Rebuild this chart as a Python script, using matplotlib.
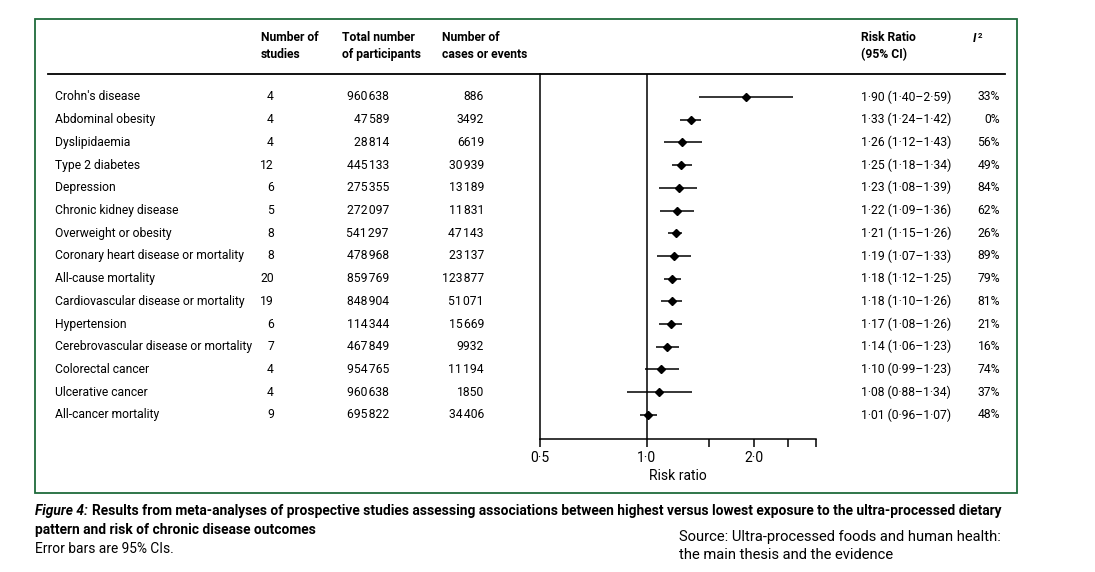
#!/usr/bin/env python3
"""
Forest plot of ultra-processed food meta-analyses: one row per outcome,
risk ratio with 95% CI on a log axis, table columns left and right.
"""
import matplotlib
matplotlib.use('Agg')
import matplotlib.pyplot as plt
from matplotlib.transforms import blended_transform_factory
from matplotlib.lines import Line2D
from matplotlib.patches import Rectangle

plt.rcParams['font.family'] = ['Roboto', 'DejaVu Sans']

outcomes = ["Crohn's disease", 'Abdominal obesity', 'Dyslipidaemia', 'Type 2 diabetes',
            'Depression', 'Chronic kidney disease', 'Overweight or obesity',
            'Coronary heart disease or mortality', 'All-cause mortality',
            'Cardiovascular disease or mortality', 'Hypertension',
            'Cerebrovascular disease or mortality', 'Colorectal cancer',
            'Ulcerative cancer', 'All-cancer mortality']
n_studies = [4, 4, 4, 12, 6, 5, 8, 8, 20, 19, 6, 7, 4, 4, 9]
participants = [960638, 47589, 28814, 445133, 275355, 272097, 541297, 478968,
                859769, 848904, 114344, 467849, 954765, 960638, 695822]
cases = [886, 3492, 6619, 30939, 13189, 11831, 47143, 23137, 123877, 51071,
         15669, 9932, 11194, 1850, 34406]
rr = [1.90, 1.33, 1.26, 1.25, 1.23, 1.22, 1.21, 1.19, 1.18, 1.18, 1.17, 1.14, 1.10, 1.08, 1.01]
ci_lo = [1.40, 1.24, 1.12, 1.18, 1.08, 1.09, 1.15, 1.07, 1.12, 1.10, 1.08, 1.06, 0.99, 0.88, 0.96]
ci_hi = [2.59, 1.42, 1.43, 1.34, 1.39, 1.36, 1.26, 1.33, 1.25, 1.26, 1.26, 1.23, 1.23, 1.34, 1.07]
i2 = [33, 0, 56, 49, 84, 62, 26, 89, 79, 81, 21, 16, 74, 37, 48]

xticks = [0.5, 1.0, 1.5, 2.0, 2.5, 3.0]
xticklabels = ['0·5', '1·0', '', '2·0', '', '']

W, H = 1095, 572
fig = plt.figure(figsize=(W / 100, H / 100), dpi=100)
renderer = fig.canvas.get_renderer()


def fx(px):
    return px / W


def fy(py):
    return 1 - py / H


def thin(n):
    # Lancet style: hair space as thousands separator
    return f'{n:,}'.replace(',', '\u200a') if n >= 10000 else str(n)


def dot(v):
    return f'{v:.2f}'.replace('.', '·')


def width_px(t):
    return t.get_window_extent(renderer).width


def fit_text(x, y, s, target, size=10, **kw):
    # shrink/grow the font so the line spans roughly the reference width
    t = fig.text(x, y, s, fontsize=size, **kw)
    t.set_fontsize(size * target / width_px(t))
    return t


# forest axes
ax = fig.add_axes([fx(540), fy(439), fx(816 - 540), (439 - 74) / H])
ax.set_xscale('log')
ax.set_xlim(0.5, 3.0)
n = len(outcomes)
ax.set_ylim(n - 1 + 1.06, -1.01)
for s in ('top', 'right'):
    ax.spines[s].set_visible(False)
ax.spines['left'].set_linewidth(1.1)
ax.spines['bottom'].set_linewidth(1.1)
ax.set_yticks([])
ax.set_xticks(xticks)
ax.set_xticklabels(xticklabels, fontsize=10)
ax.minorticks_off()
ax.tick_params(axis='x', direction='out', length=6, width=1.1, pad=2.5)
ax.axvline(1.0, color='black', lw=1.1)
ax.set_xlabel('Risk ratio', fontsize=10, labelpad=3)

for i in range(n):
    ax.plot([ci_lo[i], ci_hi[i]], [i, i], color='black', lw=1.1, solid_capstyle='butt')
ax.plot(rr, range(n), linestyle='none', marker='D', ms=4.3, color='black')

# table font size: longest label should span ~198 px as in the original
probe = fig.text(0, 0, outcomes[11], fontsize=10)
fs = 10 * 198 / width_px(probe)
probe.remove()

tr = blended_transform_factory(fig.transFigure, ax.transData)
for i in range(n):
    kw = dict(transform=tr, fontsize=fs, va='center', clip_on=False)
    fig.text(fx(55), i, outcomes[i], ha='left', **kw)
    fig.text(fx(274), i, str(n_studies[i]), ha='right', **kw)
    fig.text(fx(389), i, thin(participants[i]), ha='right', **kw)
    fig.text(fx(484), i, thin(cases[i]), ha='right', **kw)
    fig.text(fx(861), i, f'{dot(rr[i])} ({dot(ci_lo[i])}–{dot(ci_hi[i])})', ha='left', **kw)
    fig.text(fx(1000), i, f'{i2[i]}%', ha='right', **kw)

# headers
hkw = dict(fontsize=fs, fontweight='bold', ha='left', va='center', linespacing=1.35)
fig.text(fx(261), fy(46), 'Number of\nstudies', **hkw)
fig.text(fx(342), fy(46), 'Total number\nof participants', **hkw)
fig.text(fx(442), fy(46), 'Number of\ncases or events', **hkw)
fig.text(fx(861), fy(46), 'Risk Ratio\n(95% CI)', **hkw)
fig.text(fx(973), fy(38), 'I', fontsize=fs, fontweight='bold', fontstyle='italic',
         ha='left', va='center')
fig.text(fx(978), fy(35), '2', fontsize=fs * 0.65, fontweight='bold', ha='left', va='center')

fig.add_artist(Line2D([fx(48), fx(1005)], [fy(74), fy(74)], color='black', lw=1.3))
fig.add_artist(Rectangle((fx(35), fy(493)), fx(1017 - 35), (493 - 19) / H,
                         fill=False, edgecolor='#1f6b3c', lw=1.3))

# caption: "Figure 4:" italic, rest bold, fitted to the original line widths
f4 = fig.text(fx(35), fy(511), 'Figure 4:', fontsize=9, fontweight='bold',
              fontstyle='italic', va='center', ha='left')
l1 = fit_text(fx(35), fy(511), 'Results from meta-analyses of prospective studies assessing '
              'associations between highest versus lowest exposure to the ultra-processed dietary',
              1000 - 100, size=9, fontweight='bold', va='center', ha='left')
cs = l1.get_fontsize()
f4.set_fontsize(cs)
l1.set_x(fx(35 + width_px(f4) + 4))
fig.text(fx(35), fy(530), 'pattern and risk of chronic disease outcomes', fontsize=cs,
         fontweight='bold', va='center', ha='left')
fig.text(fx(35), fy(549), 'Error bars are 95% CIs.', fontsize=cs, va='center', ha='left')
src = fit_text(fx(679), fy(537), 'Source: Ultra-processed foods and human health:',
               1000 - 679, size=11, va='center', ha='left')
fig.text(fx(679), fy(555), 'the main thesis and the evidence', fontsize=src.get_fontsize(),
         va='center', ha='left')

fig.savefig('out.png', dpi=100, facecolor='white')
